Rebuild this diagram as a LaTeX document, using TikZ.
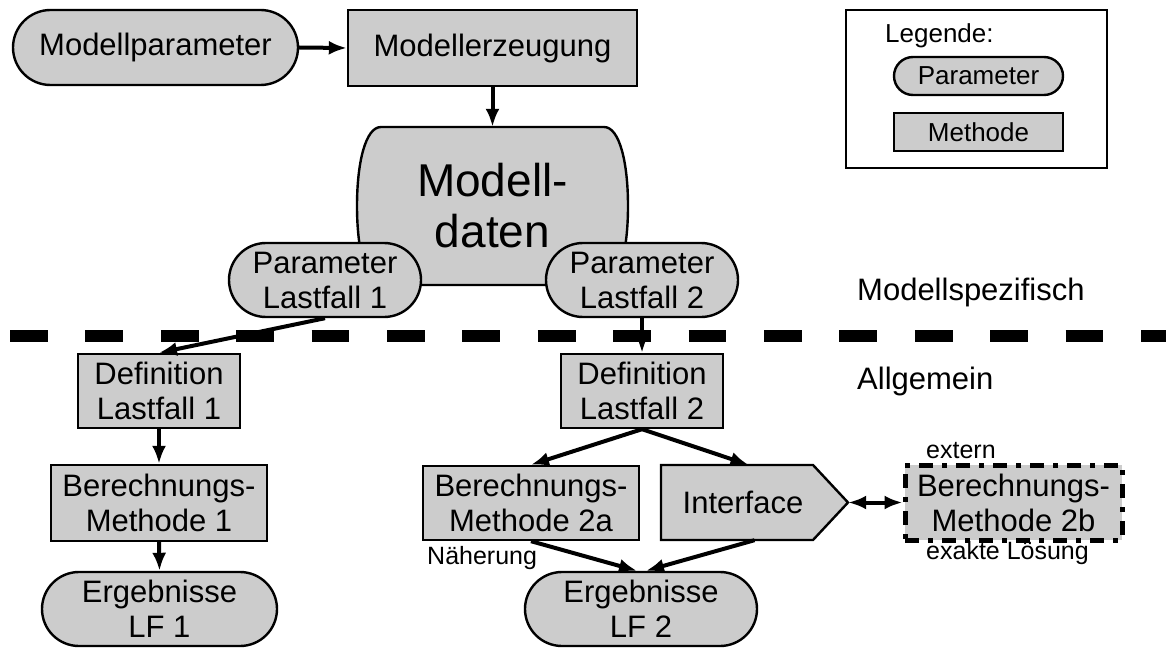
\documentclass[tikz,border=0pt]{standalone}
\usepackage{fontspec}
\setmainfont{Liberation Sans}
\usetikzlibrary{shapes.misc,arrows.meta,calc}
\definecolor{boxgray}{HTML}{CCCCCC}
\tikzset{
 basebox/.style={draw=black, line width=2.4pt, fill=boxgray, inner sep=0pt, align=center, font=\fontsize{31}{35}\selectfont},
 param/.style={basebox, rounded rectangle},
 method/.style={basebox, rectangle},
 legparam/.style={param, font=\fontsize{26}{29}\selectfont},
 legmethod/.style={method, font=\fontsize{26}{29}\selectfont},
 arr/.style={line width=4pt, -{Latex[length=18pt,width=14pt]}},
 darr/.style={line width=4pt, {Latex[length=18pt,width=14pt]}-{Latex[length=18pt,width=14pt]}},
 small/.style={font=\fontsize{25}{28}\selectfont, inner sep=0pt},
 lbl/.style={font=\fontsize{31}{35}\selectfont, inner sep=0pt},
 ghost/.style={draw=none, fill=none, inner sep=0pt, align=center},
}
\begin{document}
\begin{tikzpicture}[x=1pt,y=-1pt]
\useasboundingbox (0,0) rectangle (1166,655);

% separator line
\draw[line width=12pt, dash pattern=on 37.7pt off 37.7pt] (10,336) -- (1166,336);

% top part
\node[param, minimum width=285, minimum height=75] (mp) at (155.5,47.5) {Modellparameter};
\node[method, minimum width=289, minimum height=76] (me) at (492.5,48) {Modellerzeugung};

% Modelldaten shape
\draw[line width=2.4pt, fill=boxgray]
  (381,127) -- (604,127)
  .. controls (619.5,127) and (628,162.4) .. (628,206)
  .. controls (628,249.6) and (619.5,285) .. (604,285)
  -- (381,285)
  .. controls (365.5,285) and (357,249.6) .. (357,206)
  .. controls (357,162.4) and (365.5,127) .. (381,127) -- cycle;
\node[ghost, minimum width=271, minimum height=158, font=\fontsize{46}{51}\selectfont] (md) at (492.5,206) {Modell-\\daten};

\node[param, minimum width=192, minimum height=74] (pl1) at (325,280) {Parameter\\Lastfall 1};
\node[param, minimum width=192, minimum height=74] (pl2) at (642,280) {Parameter\\Lastfall 2};

% lower part
\node[method, minimum width=162, minimum height=74] (dl1) at (159,391) {Definition\\Lastfall 1};
\node[method, minimum width=162, minimum height=74] (dl2) at (642,391) {Definition\\Lastfall 2};
\node[method, minimum width=216, minimum height=76] (bm1) at (159,503) {Berechnungs-\\Methode 1};
\node[method, minimum width=216, minimum height=74] (bm2a) at (531,503) {Berechnungs-\\Methode 2a};

% Interface (pentagon)
\draw[line width=2.4pt, fill=boxgray] (661,465) -- (813,465) -- (848,502.5) -- (813,540) -- (661,540) -- cycle;
\node[ghost, minimum width=187, minimum height=75] (iface) at (754.5,502.5) {};
\node[lbl] (ifacetext) at (743,502.5) {Interface};

\node[basebox, line width=5pt, line join=round, dash pattern=on 14pt off 9pt on 5pt off 9pt, minimum width=217, minimum height=75] (b2b) at (1013.5,502.5) {Berechnungs-\\Methode 2b};

\node[param, minimum width=235, minimum height=74] (lf1) at (159.5,609) {Ergebnisse\\LF 1};
\node[param, minimum width=232, minimum height=74] (lf2) at (641,609) {Ergebnisse\\LF 2};

% small labels
\node[small, anchor=base west] (ext) at (926,458) {extern};
\node[small, anchor=base west] (exakt) at (926,559) {exakte Lösung};
\node[small, anchor=base west] (naeh) at (427,564) {Näherung};

% region labels
\node[lbl, anchor=base west] (spez) at (857,300) {Modellspezifisch};
\node[lbl, anchor=base west] (allg) at (857,389) {Allgemein};

% legend
\node[draw=black, line width=2.2pt, fill=white, minimum width=261, minimum height=158, inner sep=0pt] (legbox) at (976.5,89) {};
\node[small, font=\fontsize{26}{29}\selectfont, anchor=base west] (legt) at (885,43) {Legende:};
\node[legparam, minimum width=169, minimum height=38] (legp) at (978.5,76) {Parameter};
\node[legmethod, minimum width=169, minimum height=38] (legm) at (978.5,132) {Methode};

% connectors
\draw[arr] (mp.east) -- (me.west);
\draw[arr] (me.south) -- (md.north);
\draw[arr] (pl1.south) -- (dl1.north);
\draw[arr] (pl2.south) -- (dl2.north);
\draw[arr] (dl1.south) -- (bm1.north);
\draw[arr] (bm1.south) -- (lf1.north);
\draw[arr] (dl2.south) -- (bm2a.north);
\draw[arr] (dl2.south) -- ($(iface.north)+(-6,0)$);
\draw[arr] (bm2a.south) -- ($(lf2.north)+(-4,0)$);
\draw[arr] (iface.south) -- ($(lf2.north)+(5,0)$);
\draw[darr] (iface.east) -- (b2b.west);
\end{tikzpicture}
\end{document}
